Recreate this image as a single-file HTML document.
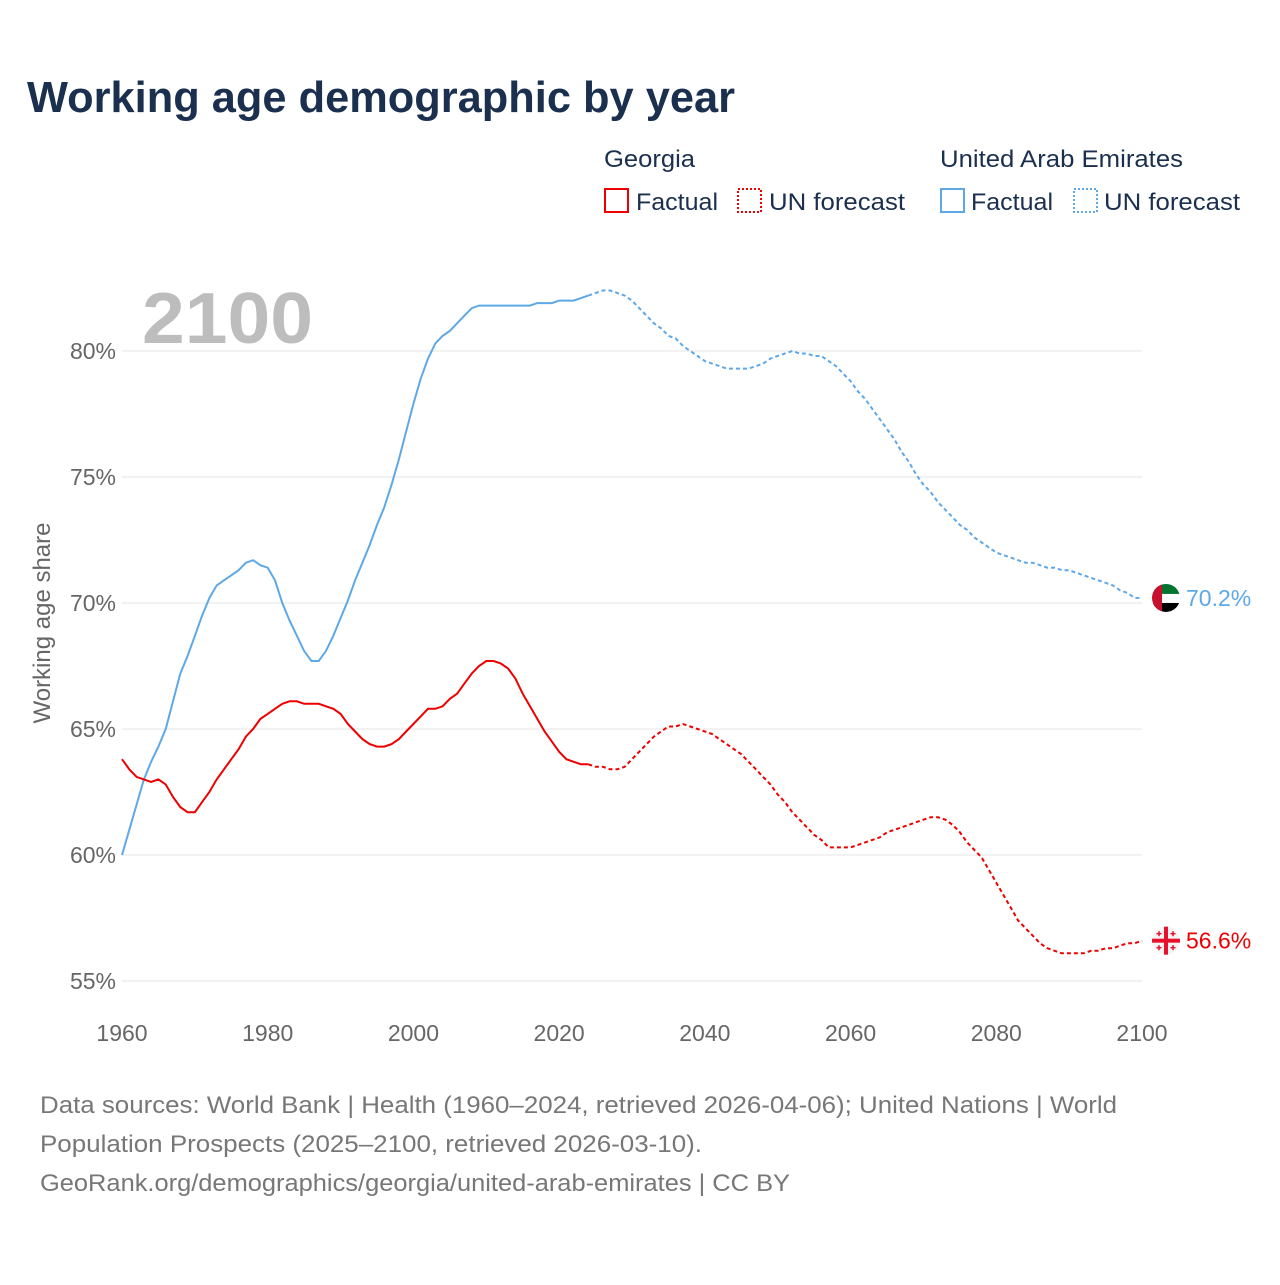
<!DOCTYPE html>
<html><head><meta charset="utf-8"><style>
body{margin:0;background:#fff;width:1280px;height:1280px;overflow:hidden;font-family:"Liberation Sans",sans-serif}
</style></head><body>
<svg id="c" width="1280" height="1280" xmlns="http://www.w3.org/2000/svg" style="font-family:'Liberation Sans',sans-serif">
<text x="27" y="112" font-size="44" font-weight="bold" fill="#1b2f4e" textLength="708" lengthAdjust="spacingAndGlyphs">Working age demographic by year</text>
<g fill="#1b2f4e" font-size="24">
<text x="604" y="167" textLength="91" lengthAdjust="spacingAndGlyphs">Georgia</text>
<text x="940" y="167" textLength="243" lengthAdjust="spacingAndGlyphs">United Arab Emirates</text>
<rect x="605" y="189" width="23" height="23" fill="none" stroke="#ee0000" stroke-width="2"/>
<text x="636" y="210" textLength="82" lengthAdjust="spacingAndGlyphs">Factual</text>
<rect x="738" y="189" width="23" height="23" fill="none" stroke="#ee0000" stroke-width="2" stroke-dasharray="2,2"/>
<text x="769" y="210" textLength="136" lengthAdjust="spacingAndGlyphs">UN forecast</text>
<rect x="941" y="189" width="23" height="23" fill="none" stroke="#5ea8e8" stroke-width="2"/>
<text x="971" y="210" textLength="82" lengthAdjust="spacingAndGlyphs">Factual</text>
<rect x="1074" y="189" width="23" height="23" fill="none" stroke="#5ea8e8" stroke-width="2" stroke-dasharray="2,2"/>
<text x="1104" y="210" textLength="136" lengthAdjust="spacingAndGlyphs">UN forecast</text>
</g>
<text x="142" y="343" font-size="72" font-weight="bold" fill="#bdbdbd" textLength="171" lengthAdjust="spacingAndGlyphs">2100</text>
<text transform="translate(50,623) rotate(-90)" text-anchor="middle" font-size="24" fill="#666">Working age share</text>
<g id="grid"></g><g id="lines"></g><g id="ends"></g>
<g font-size="24" fill="#777">
<text x="40" y="1113" textLength="1077" lengthAdjust="spacingAndGlyphs">Data sources: World Bank | Health (1960–2024, retrieved 2026-04-06); United Nations | World</text>
<text x="40" y="1152" textLength="662" lengthAdjust="spacingAndGlyphs">Population Prospects (2025–2100, retrieved 2026-03-10).</text>
<text x="40" y="1191" textLength="750" lengthAdjust="spacingAndGlyphs">GeoRank.org/demographics/georgia/united-arab-emirates | CC BY</text>
</g>
</svg>
<script>
const yTicks=[55,60,65,70,75,80];
const xTicks=[1960,1980,2000,2020,2040,2060,2080,2100];
const startYear=1960;
const lastFactual=2024;
const uae=[60.0,61.0,62.0,63.0,63.7,64.3,65.0,66.1,67.2,67.9,68.7,69.5,70.2,70.7,70.9,71.1,71.3,71.6,71.7,71.5,71.4,70.9,70.0,69.3,68.7,68.1,67.7,67.7,68.1,68.7,69.4,70.1,70.9,71.6,72.3,73.1,73.8,74.7,75.7,76.8,77.9,78.9,79.7,80.3,80.6,80.8,81.1,81.4,81.7,81.8,81.8,81.8,81.8,81.8,81.8,81.8,81.8,81.9,81.9,81.9,82.0,82.0,82.0,82.1,82.2,82.3,82.4,82.4,82.3,82.2,82.0,81.7,81.4,81.1,80.9,80.6,80.5,80.2,80.0,79.8,79.6,79.5,79.4,79.3,79.3,79.3,79.3,79.4,79.5,79.7,79.8,79.9,80.0,79.9,79.9,79.8,79.8,79.6,79.4,79.1,78.8,78.4,78.1,77.7,77.3,76.9,76.5,76.0,75.6,75.1,74.7,74.4,74.0,73.7,73.4,73.1,72.9,72.6,72.4,72.2,72.0,71.9,71.8,71.7,71.6,71.6,71.5,71.4,71.4,71.3,71.3,71.2,71.1,71.0,70.9,70.8,70.7,70.5,70.4,70.2,70.2];
const geo=[63.8,63.4,63.1,63.0,62.9,63.0,62.8,62.3,61.9,61.7,61.7,62.1,62.5,63.0,63.4,63.8,64.2,64.7,65.0,65.4,65.6,65.8,66.0,66.1,66.1,66.0,66.0,66.0,65.9,65.8,65.6,65.2,64.9,64.6,64.4,64.3,64.3,64.4,64.6,64.9,65.2,65.5,65.8,65.8,65.9,66.2,66.4,66.8,67.2,67.5,67.7,67.7,67.6,67.4,67.0,66.4,65.9,65.4,64.9,64.5,64.1,63.8,63.7,63.6,63.6,63.5,63.5,63.4,63.4,63.5,63.8,64.1,64.4,64.7,64.9,65.1,65.1,65.2,65.1,65.0,64.9,64.8,64.6,64.4,64.2,64.0,63.7,63.4,63.1,62.8,62.4,62.1,61.7,61.4,61.1,60.8,60.6,60.3,60.3,60.3,60.3,60.4,60.5,60.6,60.7,60.9,61.0,61.1,61.2,61.3,61.4,61.5,61.5,61.4,61.2,60.9,60.5,60.2,59.9,59.4,58.9,58.4,57.9,57.4,57.1,56.8,56.5,56.3,56.2,56.1,56.1,56.1,56.1,56.2,56.2,56.3,56.3,56.4,56.5,56.5,56.6];
const NS="http://www.w3.org/2000/svg";
const X=v=>122+(v-1960)*(1020/140);
const Y=v=>351+(80-v)*25.2;
function mk(t,a,p){const e=document.createElementNS(NS,t);for(const k in a)e.setAttribute(k,a[k]);p.appendChild(e);return e;}
const grid=document.getElementById('grid');
yTicks.forEach(t=>{
 const l=mk('line',{x1:122,x2:1142,y1:Y(t),y2:Y(t),stroke:'#e6e6e6','stroke-width':1},grid);
 
 
 const tx=mk('text',{x:116,y:Y(t)+8,'text-anchor':'end','font-size':23,fill:'#666'},grid);
 tx.textContent=t+'%';
 
 
});
xTicks.forEach(t=>{
 const tx=mk('text',{x:X(t),y:1041,'text-anchor':'middle','font-size':23,fill:'#666'},grid);
 tx.textContent=t;
 
 
});
const lines=document.getElementById('lines');
function draw(arr,col,name){
 const n=lastFactual-startYear;
 const pts=arr.map((v,i)=>X(startYear+i).toFixed(1)+','+Y(v).toFixed(1));
 const f=mk('polyline',{points:pts.slice(0,n+1).join(' '),fill:'none',stroke:col,'stroke-width':2},lines);
 
 
 const d=mk('polyline',{points:pts.slice(n).join(' '),fill:'none',stroke:col,'stroke-width':2,'stroke-dasharray':'4,3'},lines);
 
 
}
draw(uae,'#5ea8e8','uae');
draw(geo,'#ee0000','georgia');
const ends=document.getElementById('ends');
function endLabel(v,col,name){
 const y=Y(v);
 const g=mk('g',{},ends);
 
 
 const cx=1166;
 if(name==='uae'){
  mk('clipPath',{id:'cu'},g).appendChild(document.createElementNS(NS,'circle'));
  const c=g.querySelector('#cu circle');c.setAttribute('cx',cx);c.setAttribute('cy',y);c.setAttribute('r',14);
  const gg=mk('g',{'clip-path':'url(#cu)'},g);
  mk('rect',{x:cx-14,y:y-14,width:28,height:10,fill:'#00732f'},gg);
  mk('rect',{x:cx-14,y:y-4,width:28,height:9,fill:'#fff'},gg);
  mk('rect',{x:cx-14,y:y+5,width:28,height:10,fill:'#000'},gg);
  mk('rect',{x:cx-14,y:y-14,width:10,height:28,fill:'#c8102e'},gg);
 } else {
  mk('circle',{cx:cx,cy:y,r:14,fill:'#f4f4f4'},g);
  mk('rect',{x:cx-14,y:y-2,width:28,height:4,fill:'#e8112d'},g);
  mk('rect',{x:cx-2,y:y-14,width:4,height:28,fill:'#e8112d'},g);
  [[-7,-7],[7,-7],[-7,7],[7,7]].forEach(([a,b])=>{
   mk('rect',{x:cx+a-2.5,y:y+b-0.75,width:5,height:1.5,fill:'#e8112d'},g);
   mk('rect',{x:cx+a-0.75,y:y+b-2.5,width:1.5,height:5,fill:'#e8112d'},g);
  });
 }
 const t=mk('text',{x:1186,y:y+8,'font-size':23,fill:col},g);
 t.textContent=v.toFixed(1)+'%';
}
endLabel(uae[uae.length-1],'#5ea8e8','uae');
endLabel(geo[geo.length-1],'#ee0000','georgia');
</script>
</body></html>
